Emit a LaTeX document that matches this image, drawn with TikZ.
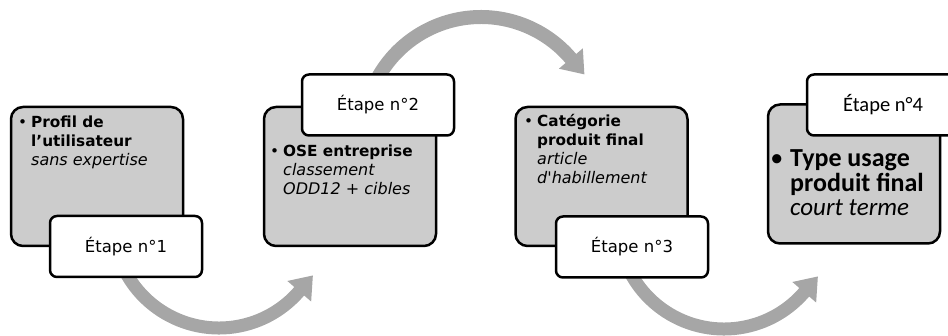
\documentclass[tikz,border=0pt]{standalone}
\usepackage{fontspec}
\setmainfont{DejaVu Sans}
\newfontfamily\calib{Carlito}
\usetikzlibrary{arrows.meta}
\definecolor{flowgray}{HTML}{A6A6A6}
\definecolor{boxgray}{HTML}{CCCCCC}
\tikzset{
  graybox/.style={draw=black, line width=2.5pt, fill=boxgray, rounded corners=12pt,
    minimum width=172pt, minimum height=139pt, inner sep=0pt},
  stepbox/.style={draw=black, line width=2.5pt, fill=white, rounded corners=7pt,
    minimum width=152pt, minimum height=61pt, inner sep=0pt,
    font=\fontsize{16.5}{20}\selectfont},
  flow/.style={draw=flowgray, line width=13pt, -{Triangle[length=21pt,width=30pt]}},
  boxtext/.style={anchor=base west, inner sep=0pt, align=left,
    font=\fontsize{15.3}{19}\selectfont},
  bigtext/.style={anchor=base west, inner sep=0pt, align=left,
    font=\calib\fontsize{26}{24.5}\selectfont},
}
\newcommand{\bl}[1]{\fontsize{15.3}{19}\selectfont\bfseries #1}
\newcommand{\il}[1]{\fontsize{16}{19}\selectfont\itshape #1}
\newcommand{\dotmark}{\llap{\mdseries\upshape\textbullet\hspace{4pt}}}
\begin{document}
\begin{tikzpicture}[x=1pt,y=1pt]
\useasboundingbox (0,0) rectangle (948,336);
\clip (0,0) rectangle (948,336);

% curved flow arrows, behind the boxes
\coordinate (c1) at (219,114);
\coordinate (c2) at (481,201);
\coordinate (c3) at (724,113);
\draw[flow] ([shift={(200:106)}]c1) arc[start angle=200, end angle=319.2, radius=106] -- ++(49.2:21);
\draw[flow, line width=14pt] ([shift={(155:118)}]c2) arc[start angle=155, end angle=40.4, radius=118] -- ++(-49.6:21);
\draw[flow] ([shift={(200:106)}]c3) arc[start angle=200, end angle=319.2, radius=106] -- ++(49.2:21);

% content boxes
\node[graybox] (g1) at (97,159.5) {};
\node[graybox] (g2) at (350,159.5) {};
\node[graybox] (g3) at (601.5,159.5) {};
\node[graybox] (g4) at (854,162) {};

% step labels
\node[stepbox] (w1) at (126,89.5) {Étape n°1};
\node[stepbox] (w2) at (378,231) {Étape n°2};
\node[stepbox] (w3) at (632,89) {Étape n°3};
\node[stepbox, font=\calib\fontsize{20.5}{24}\selectfont] (w4) at (883,231) {Étape n°4};

% box texts (anchored on the baseline of their last line)
\node[boxtext] (t1) at (31,170) {\bl{\dotmark Profil de}\\ \bl{l’utilisateur}\\ \il{sans expertise}};
\node[boxtext] (t2) at (283,141) {\bl{\dotmark OSE entreprise}\\ \il{classement}\\ \il{ODD12 + cibles}};
\node[boxtext] (t3) at (537,152) {\bl{\dotmark Catégorie}\\ \bl{produit final}\\ \il{article}\\ \il{d\textquotesingle habillement}};
\node[bigtext] (t4) at (790,120) {\bfseries\llap{\mdseries\textbullet\hspace{7pt}}Type usage\\
  \bfseries produit final\\
  \fontsize{25}{24.5}\selectfont\itshape court terme};
\end{tikzpicture}
\end{document}
